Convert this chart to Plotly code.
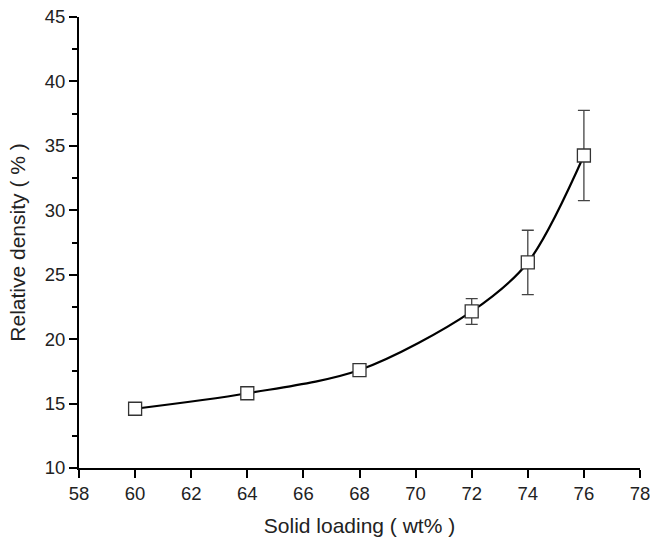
import plotly.graph_objects as go

solid_loading = [60, 64, 68, 72, 74, 76]
relative_density = [14.6, 15.8, 17.6, 22.15, 25.95, 34.25]
error = [0, 0, 0, 1.0, 2.5, 3.5]

fig = go.Figure()
fig.add_trace(go.Scatter(
    x=solid_loading, y=relative_density,
    mode="lines",
    line=dict(color="black", width=2.2, shape="spline", smoothing=0.9),
    showlegend=False, hoverinfo="skip",
))
fig.add_trace(go.Scatter(
    x=solid_loading, y=relative_density,
    mode="markers",
    marker=dict(symbol="square", size=13, color="white",
                line=dict(color="#333333", width=1.3)),
    error_y=dict(type="data", array=error, visible=True,
                 color="#444444", thickness=1.3, width=6),
    showlegend=False,
))

font = "Liberation Sans, Arial, sans-serif"
fig.update_layout(
    width=650, height=543,
    margin=dict(l=79, r=10, t=17, b=75),
    plot_bgcolor="white", paper_bgcolor="white",
    font=dict(family=font, size=18.5, color="#222222"),
)
fig.update_xaxes(
    range=[58, 78], dtick=2, tick0=58, automargin=False,
    ticklabeloverflow="allow",
    showgrid=False, zeroline=False,
    showline=True, linecolor="black", linewidth=2,
    ticks="outside", ticklen=8, tickwidth=1.5, tickcolor="black",
    title=dict(text="Solid loading ( wt% )", font=dict(size=21), standoff=15),
)
fig.update_yaxes(
    range=[10, 45], dtick=5, tick0=10, automargin=False,
    ticklabeloverflow="allow",
    showgrid=False, zeroline=False,
    showline=True, linecolor="black", linewidth=2,
    ticks="outside", ticklen=8, tickwidth=1.5, tickcolor="black",
    minor=dict(ticks="outside", ticklen=5, tickwidth=1.5, tickcolor="black", dtick=2.5, tick0=10),
    title=dict(text="Relative density ( % )", font=dict(size=21), standoff=13),
)
fig.write_html("out.html")
